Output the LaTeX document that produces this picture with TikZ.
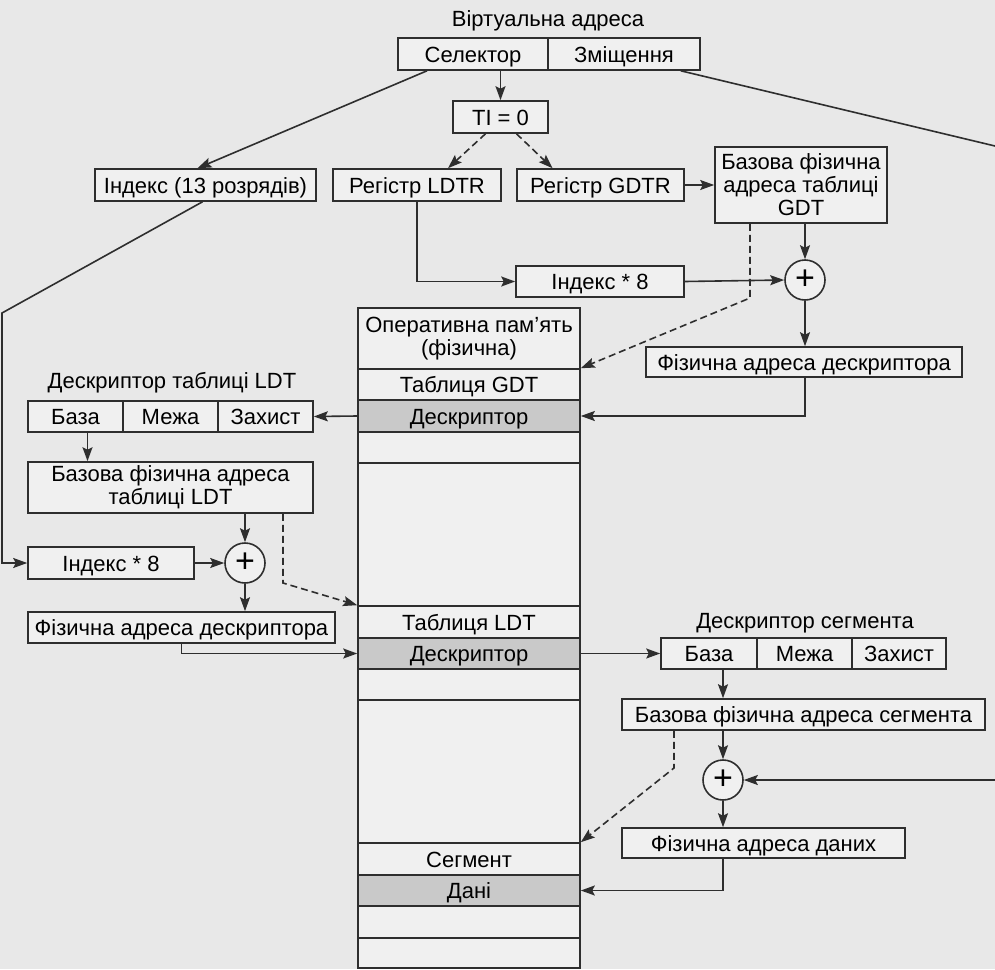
\documentclass[tikz,border=0pt]{standalone}
\usepackage{fontspec}
\setmainfont{Liberation Sans}
\usetikzlibrary{arrows.meta}
\definecolor{ink}{gray}{0.18}
\definecolor{paper}{gray}{0.91}
\definecolor{boxbg}{gray}{0.94}
\definecolor{shade}{gray}{0.79}
\tikzset{
  blk/.style={draw=ink, line width=1.6pt, fill=boxbg, inner sep=0pt, minimum height=31pt, align=center},
  cell/.style={blk, text height=16pt, text depth=0pt},
  memrow/.style={cell, minimum width=222pt},
  dsc/.style={fill=shade},
  adder/.style={draw=ink, line width=1.6pt, fill=boxbg, circle, minimum size=40pt, inner sep=0pt, font=\fontsize{34}{34}\selectfont},
  arr/.style={draw=ink, line width=1.6pt, -{Stealth[length=14pt,width=10pt,inset=2.5pt]}},
  dasharr/.style={arr, dash pattern=on 7pt off 4pt},
  lbl/.style={inner sep=0pt},
}
\begin{document}
\begin{tikzpicture}[x=1pt,y=-1pt,font=\fontsize{22}{23}\selectfont]
\fill[paper] (0,0) rectangle (995,969);
\useasboundingbox (0,0) rectangle (995,969);

% virtual address
\node[lbl] (vlabel) at (548,21) {Віртуальна адреса};
\node[cell, minimum width=150pt, minimum height=32pt] (sel) at (473,54) {Селектор};
\node[cell, minimum width=152pt, minimum height=32pt] (zm) at (624,54) {Зміщення};
\node[cell, minimum width=95pt, minimum height=32pt] (ti) at (500.5,117) {TI = 0};

\node[cell, minimum width=221pt, minimum height=32pt] (idx13) at (205.5,185) {Індекс (13 розрядів)};
\node[cell, minimum width=168pt, minimum height=32pt] (ldtr) at (417,185) {Регістр LDTR};
\node[cell, minimum width=167pt, minimum height=32pt] (gdtr) at (600.5,185) {Регістр GDTR};
\node[blk, minimum width=172pt, minimum height=76pt] (gdtbase) at (801,185) {Базова фізична\\адреса таблиці\\GDT};

\node[cell, minimum width=168pt] (idx8a) at (600,281.5) {Індекс * 8};
\node[adder] (plusA) at (805,280) {+};
\node[cell, minimum width=316pt, minimum height=30pt] (physA) at (804,362) {Фізична адреса дескриптора};

% memory
\node[blk, minimum width=222pt, minimum height=61pt] (memtop) at (469,338.5) {Оперативна пам’ять\\(фізична)};
\node[memrow] (gdt) at (469,384.5) {Таблиця GDT};
\node[memrow, dsc, minimum height=32pt] (gdtd) at (469,416) {Дескриптор};
\node[memrow] (blank1) at (469,447.5) {};
\node[memrow, minimum height=143pt] (gap1) at (469,534.5) {};
\node[memrow, minimum height=32pt] (ldt) at (469,622) {Таблиця LDT};
\node[memrow, dsc] (ldtd) at (469,653.5) {Дескриптор};
\node[memrow] (blank2) at (469,684.5) {};
\node[memrow, minimum height=143pt] (gap2) at (469,771.5) {};
\node[memrow, minimum height=32pt] (seg) at (469,859) {Сегмент};
\node[memrow, dsc] (dani) at (469,890.5) {Дані};
\node[memrow, minimum height=32pt] (blank3) at (469,922) {};
\node[memrow, minimum height=30pt] (blank4) at (469,953) {};

% LDT descriptor
\node[lbl] (ldtlabel) at (172,383) {Дескриптор таблиці LDT};
\node[cell, minimum width=95pt] (lb1) at (75.5,416.5) {База};
\node[cell, minimum width=95pt] (lb2) at (170.5,416.5) {Межа};
\node[cell, minimum width=95pt] (lb3) at (265.5,416.5) {Захист};
\node[blk, minimum width=285pt, minimum height=51pt] (ldtbase) at (170.5,487.5) {Базова фізична адреса\\таблиці LDT};
\node[cell, minimum width=166pt, minimum height=32pt] (idx8b) at (111,563) {Індекс * 8};
\node[adder] (plusB) at (245,563) {+};
\node[cell, minimum width=307pt] (physB) at (181.5,627.5) {Фізична адреса дескриптора};

% segment descriptor
\node[lbl] (seglabel) at (805,623) {Дескриптор сегмента};
\node[cell, minimum width=96pt] (sb1) at (709,653.5) {База};
\node[cell, minimum width=95pt] (sb2) at (804.5,653.5) {Межа};
\node[cell, minimum width=94pt] (sb3) at (899,653.5) {Захист};
\node[cell, minimum width=363pt] (segbase) at (803.5,714.5) {Базова фізична адреса сегмента};
\node[adder] (plusC) at (723,780) {+};
\node[cell, minimum width=283pt, minimum height=30pt] (physC) at (763.5,843) {Фізична адреса даних};

\coordinate (lcorner) at (2,313);
\coordinate (zmout) at (995,146);
\coordinate (offin) at (995,780);
\coordinate (gbend) at (750,298);
\coordinate (lbend) at (283,583);
\coordinate (sbend) at (674,768);
\coordinate (lbx) at ([xshift=12pt]lb1.south);

% selector and registers
\draw[arr] ([xshift=-46pt]sel.south) -- ([xshift=-8pt]idx13.north);
\draw[arr] (ti.north |- sel.south) -- (ti.north);
\draw[ink, line width=1.6pt] ([xshift=-20pt]zm.south east) -- (zmout);
\draw[dasharr] ([xshift=-15pt]ti.south) -- ([xshift=31pt]ldtr.north);
\draw[dasharr] ([xshift=16pt]ti.south) -- ([xshift=-48pt]gdtr.north);
\draw[arr] (gdtr.east) -- (gdtbase.west);
\draw[arr] (ldtr.south) |- (idx8a.west);
\draw[arr] (idx8a.east) -- (plusA.west);
\draw[arr] (gdtbase.south -| plusA) -- (plusA.north);
\draw[arr] (plusA.south) -- (plusA.south |- physA.north);
\draw[arr] (physA.south -| plusA) |- (gdtd.east);
\draw[dasharr] (gdtbase.south -| gbend) -- (gbend) -- (gdt.north east);

% LDT path
\draw[arr] ([xshift=-3pt]idx13.south) -- (lcorner) |- (idx8b.west);
\draw[arr] (gdtd.west) -- (lb3.east);
\draw[arr] (lbx) -- (lbx |- ldtbase.north);
\draw[arr] (ldtbase.south -| plusB) -- (plusB.north);
\draw[arr] (idx8b.east) -- (plusB.west);
\draw[arr] (plusB.south) -- (plusB.south |- physB.north);
\draw[arr] (physB.south) |- (ldtd.west);
\draw[dasharr] (ldtbase.south -| lbend) -- (lbend) -- (ldt.north west);

% segment path
\draw[arr] (ldtd.east) -- (sb1.west);
\draw[arr] (sb1.south -| plusC) -- (plusC |- segbase.north);
\draw[arr] (segbase.south -| plusC) -- (plusC.north);
\draw[arr] (offin) -- (plusC.east);
\draw[arr] (plusC.south) -- (plusC.south |- physC.north);
\draw[arr] (physC.south -| plusC) |- (dani.east);
\draw[dasharr] (segbase.south -| sbend) -- (sbend) -- (seg.north east);

\end{tikzpicture}
\end{document}
